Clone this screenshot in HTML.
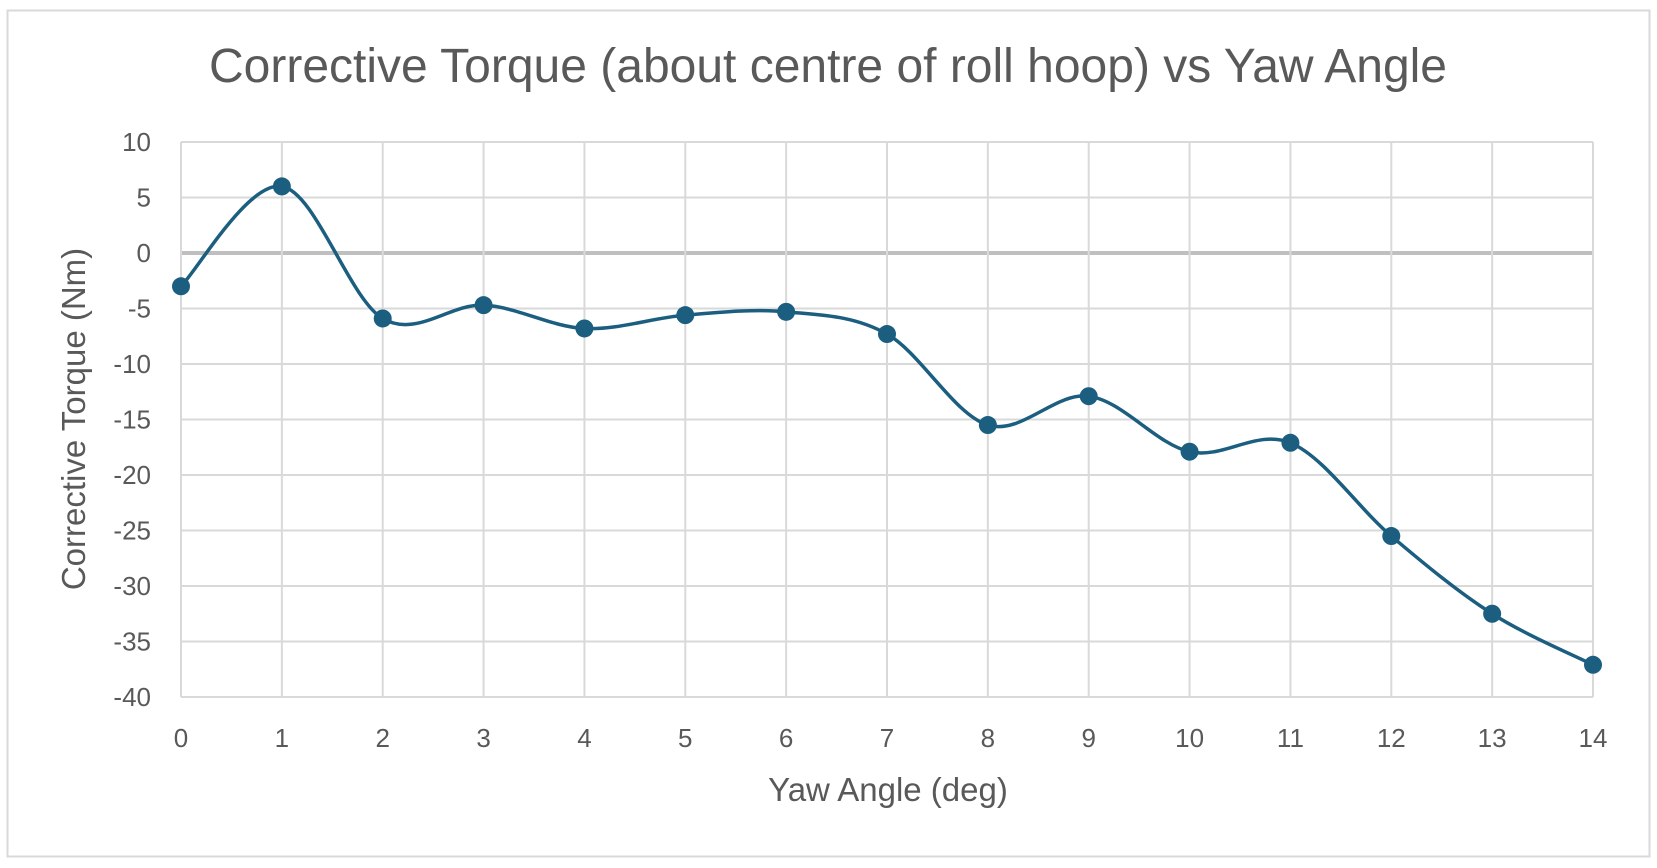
<!DOCTYPE html>
<html><head><meta charset="utf-8"><style>
html,body{margin:0;padding:0;background:#fff;}
svg{display:block;font-family:"Liberation Sans",sans-serif;}
</style></head><body>
<svg id="chart" width="1657" height="868">
<rect x="7.5" y="10.5" width="1642" height="846" fill="#fff" stroke="#d9d9d9" stroke-width="2"/>
<text x="828" y="82" font-size="48" fill="#595959" text-anchor="middle">Corrective Torque (about centre of roll hoop) vs Yaw Angle</text>
<g id="grid"></g>
<g id="ticks"></g>
<path id="line" fill="none" stroke="#1b5e7f" stroke-width="3.5"/>
<g id="points"></g>
<text x="888" y="801" font-size="33" fill="#595959" text-anchor="middle">Yaw Angle (deg)</text>
<text transform="translate(85,419) rotate(-90)" font-size="33" fill="#595959" text-anchor="middle">Corrective Torque (Nm)</text>
</svg>
<script>
const categories=[0,1,2,3,4,5,6,7,8,9,10,11,12,13,14];
const torqueValues=[-3,6,-5.9,-4.7,-6.8,-5.6,-5.3,-7.3,-15.5,-12.9,-17.9,-17.1,-25.5,-32.5,-37.1];
const yTicks=[10,5,0,-5,-10,-15,-20,-25,-30,-35,-40];
const L=181,R=1593,T=142,B=697,yMax=10,yMin=-40,xMin=0,xMax=14;
const NS='http://www.w3.org/2000/svg';
const xs=v=>L+(v-xMin)/(xMax-xMin)*(R-L);
const ys=v=>T+(yMax-v)/(yMax-yMin)*(B-T);
const grid=document.getElementById('grid'),ticks=document.getElementById('ticks'),pts=document.getElementById('points');
function mk(tag,attrs,parent){const e=document.createElementNS(NS,tag);for(const k in attrs)e.setAttribute(k,attrs[k]);parent.appendChild(e);return e;}
yTicks.forEach(t=>{
  const l=mk('line',{x1:L,x2:R,y1:ys(t),y2:ys(t),stroke:t===0?'#bfbfbf':'#d9d9d9','stroke-width':t===0?4:2},grid);
  
  
  const tx=mk('text',{x:151,y:ys(t)+9,'font-size':26,fill:'#595959','text-anchor':'end'},ticks);
  tx.textContent=t;
  
  
});
categories.forEach(c=>{
  const l=mk('line',{x1:xs(c),x2:xs(c),y1:T,y2:B,stroke:'#d9d9d9','stroke-width':2},grid);
  
  
  const tx=mk('text',{x:xs(c),y:747,'font-size':26,fill:'#595959','text-anchor':'middle'},ticks);
  tx.textContent=c;
  
  
});
const P=categories.map((c,i)=>[xs(c),ys(torqueValues[i])]);
let d='M'+P[0][0]+','+P[0][1];
for(let i=0;i<P.length-1;i++){
  const p0=P[Math.max(0,i-1)],p1=P[i],p2=P[i+1],p3=P[Math.min(P.length-1,i+2)];
  const c1=[p1[0]+(p2[0]-p0[0])/6,p1[1]+(p2[1]-p0[1])/6];
  const c2=[p2[0]-(p3[0]-p1[0])/6,p2[1]-(p3[1]-p1[1])/6];
  d+=' C'+c1+' '+c2+' '+p2;
}
document.getElementById('line').setAttribute('d',d);
P.forEach(p=>{
  const c=mk('circle',{cx:p[0],cy:p[1],r:9,fill:'#1b5e7f'},pts);
  
  
});
</script>
</body></html>
